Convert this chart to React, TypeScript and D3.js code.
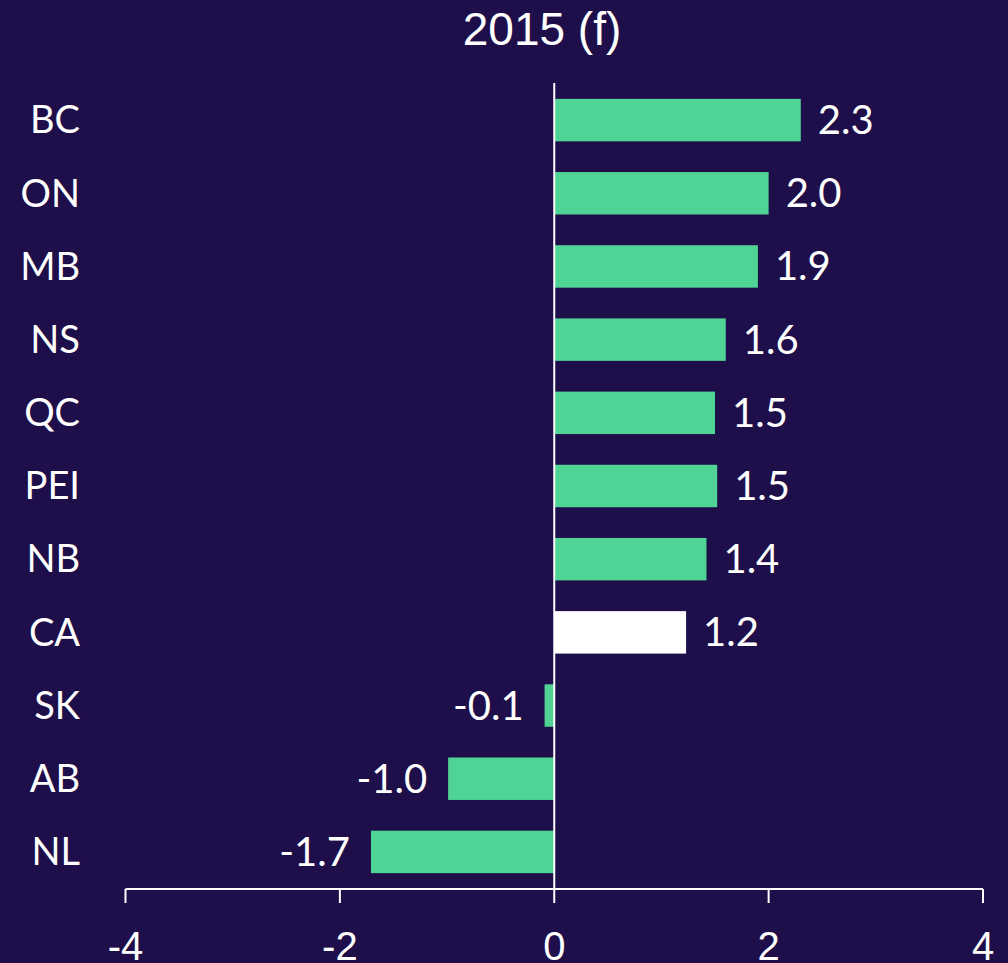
import React from "react";
import * as d3 from "d3";

const categories = ["BC", "ON", "MB", "NS", "QC", "PEI", "NB", "CA", "SK", "AB", "NL"];
const values = [2.3, 2.0, 1.9, 1.6, 1.5, 1.52, 1.42, 1.23, -0.09, -0.99, -1.71];
const labels = ["2.3", "2.0", "1.9", "1.6", "1.5", "1.5", "1.4", "1.2", "-0.1", "-1.0", "-1.7"];
const highlight = ["CA"];
const xTicks = [-4, -2, 0, 2, 4];
const title = "2015 (f)";

const W = 1008;
const H = 963;
const BG = "#1e0f4b";
const GREEN = "#4fd495";

export default function App() {
  const x = d3.scaleLinear().domain([-4, 4]).range([125.5, 983]);
  const y = d3
    .scaleBand<string>()
    .domain(categories)
    .range([83.5, 888.5])
    .paddingInner(0.42)
    .paddingOuter(0.21);
  const axisY = 889;
  const labelFont = "Lato, 'Open Sans', sans-serif";
  const axisFont = "'Liberation Sans', Arial, sans-serif";

  return (
    <svg
      width={W}
      height={H}
      style={{ position: "absolute", left: 0, top: 0, display: "block" }}
    >
      <rect x={0} y={0} width={W} height={H} fill={BG} />
      <text
        x={542}
        y={45}
        textAnchor="middle"
        fill="#fff"
        fontFamily={axisFont}
        fontSize={46}
      >
        {title}
      </text>
      {categories.map((c, i) => {
        const v = values[i];
        const y0 = y(c)!;
        const bw = y.bandwidth();
        const x0 = Math.min(x(0), x(v));
        const w = Math.abs(x(v) - x(0));
        const cy = y0 + bw / 2;
        return (
          <g key={c}>
            <rect
              x={x0}
              y={y0}
              width={w}
              height={bw}
              fill={highlight.includes(c) ? "#ffffff" : GREEN}
            />
            <text
              x={80}
              y={cy}
              dy="0.35em"
              textAnchor="end"
              fill="#fff"
              fontFamily={labelFont}
              fontSize={38}
            >
              {c}
            </text>
            <text
              x={v >= 0 ? x(v) + 17 : x(v) - 21}
              y={cy}
              dy="0.35em"
              textAnchor={v >= 0 ? "start" : "end"}
              fill="#fff"
              fontFamily={labelFont}
              fontSize={40}
            >
              {labels[i]}
            </text>
          </g>
        );
      })}
      <line x1={x(0)} x2={x(0)} y1={83} y2={axisY} stroke="#fff" strokeWidth={2} />
      <line x1={x(-4)} x2={x(4)} y1={axisY} y2={axisY} stroke="#fff" strokeWidth={2} />
      {xTicks.map((t) => (
        <g key={t}>
          <line x1={x(t)} x2={x(t)} y1={axisY} y2={903} stroke="#fff" strokeWidth={2} />
          <text
            x={x(t)}
            y={960}
            textAnchor="middle"
            fill="#fff"
            fontFamily={axisFont}
            fontSize={40}
          >
            {t}
          </text>
        </g>
      ))}
    </svg>
  );
}
